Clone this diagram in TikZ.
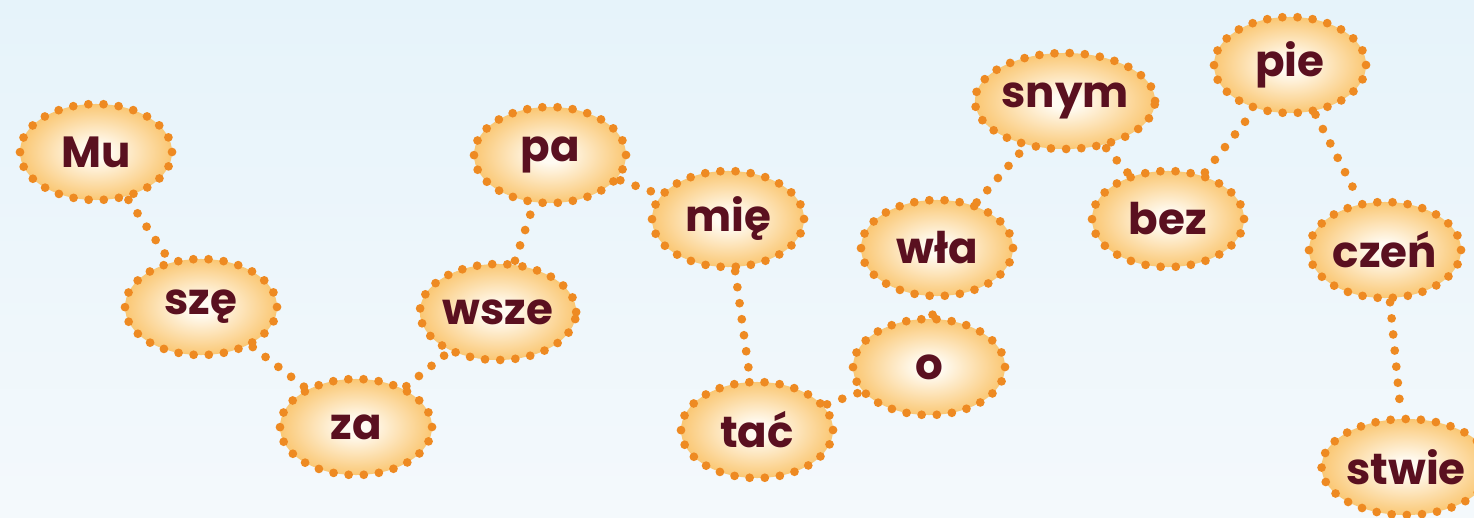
\documentclass[tikz,border=0pt]{standalone}
\usepackage{fontspec}
\usepackage{xcolor}
\usetikzlibrary{shapes.geometric}

\newfontfamily\wordfont{Poppins}

\definecolor{dotor}{HTML}{EE8A22}
\definecolor{wordred}{HTML}{5A1020}
\definecolor{bubout}{HTML}{F4A21E}
\definecolor{bubmid}{HTML}{FAC56E}
\definecolor{bubin}{HTML}{FFFBF2}
\definecolor{skytop}{HTML}{E6F3FA}
\definecolor{skybot}{HTML}{F4F9FC}

\pgfdeclareradialshading{bubble}{\pgfpoint{0bp}{0bp}}{%
  color(0bp)=(bubin); color(4bp)=(bubin); color(26bp)=(bubmid);
  color(46bp)=(bubout); color(50bp)=(bubout)}

\tikzset{
  syl/.style={ellipse, minimum width=3.8cm, minimum height=2.4cm,
    inner sep=0pt, shading=bubble, draw=dotor, line width=6.2pt,
    dash pattern=on 0pt off 10.8pt, line cap=round, text=wordred,
    font=\wordfont\bfseries\fontsize{31}{31}\selectfont},
  link/.style={dotor, line width=6.2pt, dash pattern=on 0pt off 11.5pt,
    line cap=round}
}

\begin{document}
\begin{tikzpicture}[x=0.025cm, y=-0.025cm]
	% background
	\fill[top color=skytop, bottom color=skybot] (0,0) rectangle (1474,518);
	\useasboundingbox (0,0) rectangle (1474,518);
	% bubble centres
	\path (96,152) coordinate (cmu) (201,307) coordinate (csze)
	      (356,427) coordinate (cza) (498,312) coordinate (cwsze)
	      (550,155) coordinate (cpa) (728,219) coordinate (cmie)
	      (757,430) coordinate (ctac) (929,367) coordinate (co)
	      (937,248) coordinate (cwla) (1065,101) coordinate (csnym)
	      (1168,219) coordinate (cbez) (1290,65) coordinate (cpie)
	      (1385,250) coordinate (czen) (1406,467) coordinate (cstwie);
	% syllables
	\node[syl] (mu) at (cmu) {Mu};
	\node[syl] (sze) at (csze) {szę};
	\node[syl] (za) at (cza) {za};
	\node[syl] (wsze) at (cwsze) {wsze};
	\node[syl] (pa) at (cpa) {pa};
	\node[syl] (mie) at (cmie) {mię};
	\node[syl] (tac) at (ctac) {tać};
	\node[syl] (o) at (co) {o};
	\node[syl] (wla) at (cwla) {wła};
	\node[syl] (snym) at (csnym) {snym};
	\node[syl] (bez) at (cbez) {bez};
	\node[syl] (pie) at (cpie) {pie};
	\node[syl] (czen) at (czen) {czeń};
	\node[syl] (stwie) at (cstwie) {stwie};
	% dotted links
	\draw[link] (mu) -- (sze);
	\draw[link] (sze) -- (za);
	\draw[link] (za) -- (wsze);
	\draw[link] (wsze) -- (pa);
	\draw[link] (pa) -- (mie);
	\draw[link] (mie) -- (tac);
	\draw[link] (tac) -- (o);
	\draw[link] (o) -- (wla);
	\draw[link] (wla) -- (snym);
	\draw[link] (snym) -- (bez);
	\draw[link] (bez) -- (pie);
	\draw[link] (pie) -- (czen);
	\draw[link] (czen) -- (stwie);
\end{tikzpicture}
\end{document}
